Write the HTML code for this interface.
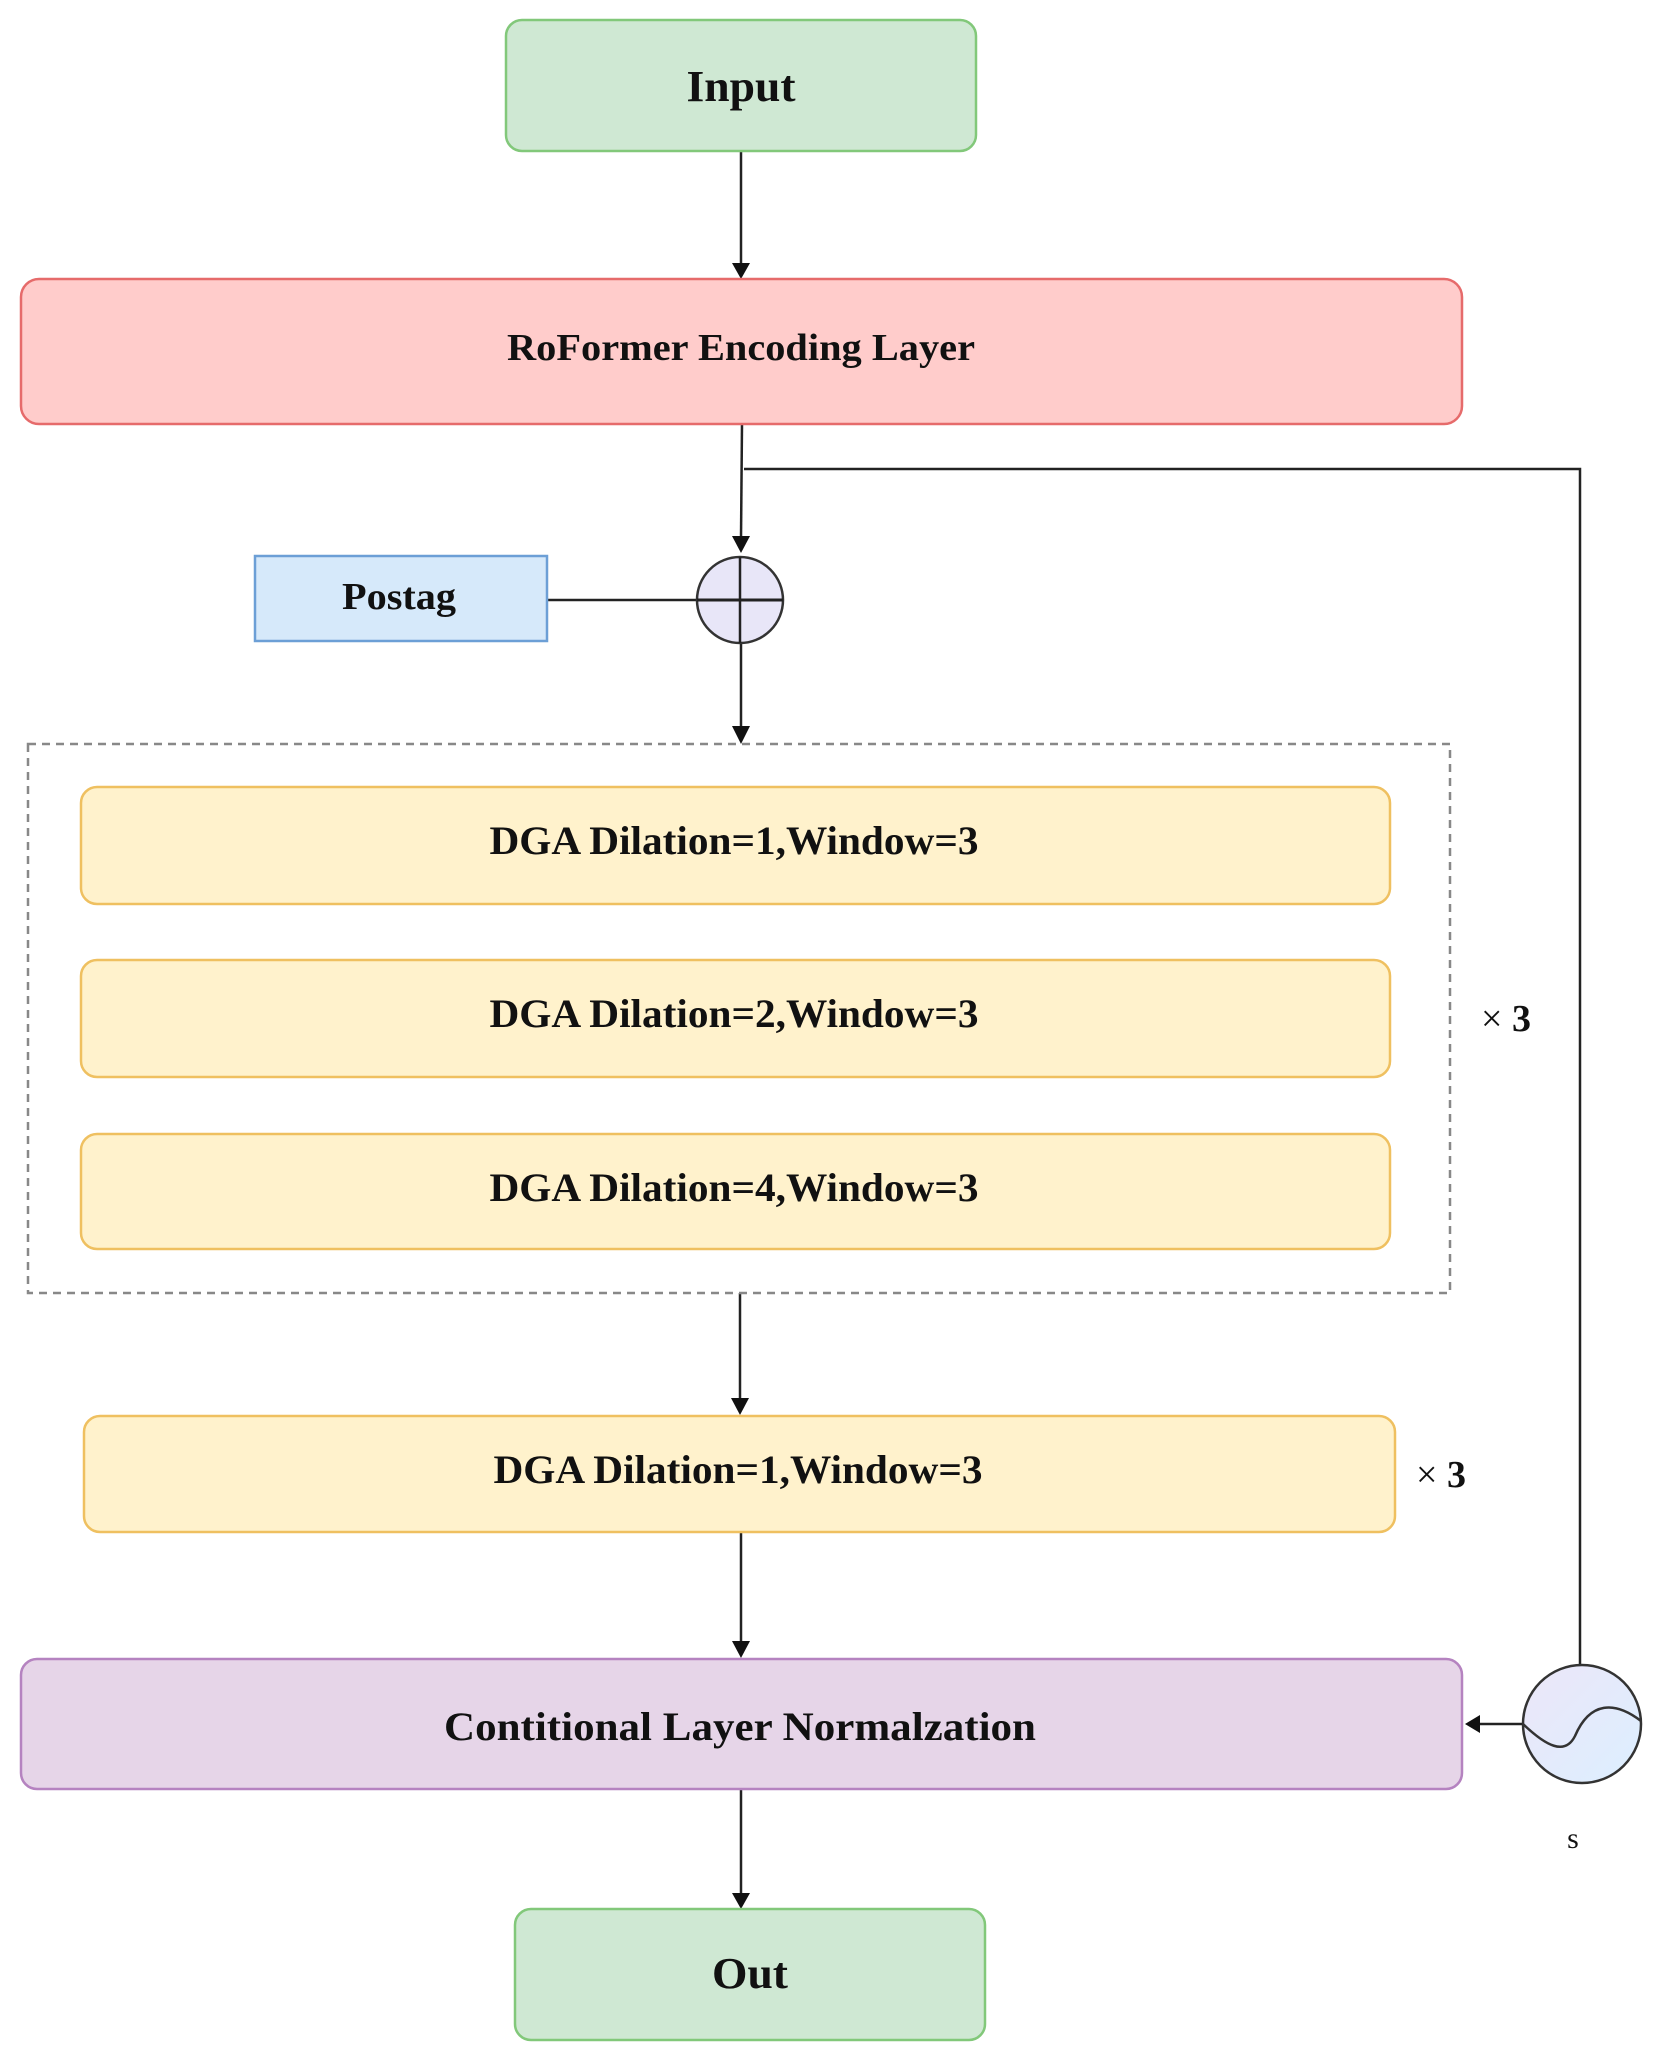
<!DOCTYPE html>
<html><head><meta charset="utf-8"><style>
html,body{margin:0;padding:0;background:#fff;}
svg{display:block;}
text{font-family:"Liberation Serif",serif;font-weight:bold;fill:#111;}
</style></head><body>
<svg width="1658" height="2060" viewBox="0 0 1658 2060" xmlns="http://www.w3.org/2000/svg">
<defs>
<linearGradient id="g" x1="0" y1="0" x2="1" y2="1"><stop offset="0" stop-color="#ece6f8"/><stop offset="1" stop-color="#dcefff"/></linearGradient>
</defs>
<g stroke="#222" stroke-width="2.5" fill="none">
<line x1="741" y1="151" x2="741" y2="265"/>
<line x1="742" y1="424" x2="741" y2="538"/>
<polyline points="744,469 1580,469 1580,1665"/>
<line x1="547" y1="600" x2="700" y2="600"/>
<line x1="741" y1="644" x2="741" y2="728"/>
<line x1="740" y1="1293" x2="740" y2="1400"/>
<line x1="741" y1="1532" x2="741" y2="1643"/>
<line x1="1523" y1="1724" x2="1478" y2="1724"/>
<line x1="741" y1="1789" x2="741" y2="1896"/>
</g>
<g fill="#111">
<polygon points="732,263 750,263 741,279"/>
<polygon points="732,536 750,536 741,553"/>
<polygon points="732,726 750,726 741,744"/>
<polygon points="731,1398 749,1398 740,1415"/>
<polygon points="732,1641 750,1641 741,1658"/>
<polygon points="1480,1715 1480,1733 1465,1724"/>
<polygon points="732,1893 750,1893 741,1909"/>
</g>
<rect x="506" y="20" width="470" height="131" rx="16" fill="#cfe8d3" stroke="#82c87a" stroke-width="2.5"/>
<text x="741" y="101" font-size="44" text-anchor="middle" textLength="109" lengthAdjust="spacingAndGlyphs">Input</text>
<rect x="21" y="279" width="1441" height="145" rx="18" fill="#ffcccb" stroke="#e66b6b" stroke-width="2.5"/>
<text x="741" y="360" font-size="38" text-anchor="middle" textLength="468" lengthAdjust="spacingAndGlyphs">RoFormer Encoding Layer</text>
<rect x="255" y="556" width="292" height="85" fill="#d6e9fa" stroke="#6c9fd6" stroke-width="2.5"/>
<text x="399" y="609" font-size="38" text-anchor="middle" textLength="114" lengthAdjust="spacingAndGlyphs">Postag</text>
<ellipse cx="740" cy="600" rx="43" ry="43" fill="#e8e6f8" stroke="#333" stroke-width="2.5"/>
<line x1="697" y1="600" x2="783" y2="600" stroke="#222" stroke-width="3"/>
<line x1="740" y1="557" x2="740" y2="643" stroke="#222" stroke-width="2.5"/>
<rect x="28" y="744" width="1422" height="549" fill="none" stroke="#888" stroke-width="2.5" stroke-dasharray="8,6"/>
<g fill="#fff2cc" stroke="#efc060" stroke-width="2.5">
<rect x="81" y="787" width="1309" height="117" rx="16"/>
<rect x="81" y="960" width="1309" height="117" rx="16"/>
<rect x="81" y="1134" width="1309" height="115" rx="16"/>
<rect x="84" y="1416" width="1311" height="116" rx="16"/>
</g>
<g font-size="40" text-anchor="middle">
<text x="734" y="854" textLength="489" lengthAdjust="spacingAndGlyphs">DGA  Dilation=1,Window=3</text>
<text x="734" y="1027" textLength="489" lengthAdjust="spacingAndGlyphs">DGA  Dilation=2,Window=3</text>
<text x="734" y="1201" textLength="489" lengthAdjust="spacingAndGlyphs">DGA  Dilation=4,Window=3</text>
<text x="738" y="1483" textLength="489" lengthAdjust="spacingAndGlyphs">DGA  Dilation=1,Window=3</text>
</g>
<text x="1481" y="1031" font-size="38"><tspan font-weight="normal">×</tspan> 3</text>
<text x="1416" y="1487" font-size="38"><tspan font-weight="normal">×</tspan> 3</text>
<rect x="21" y="1659" width="1441" height="130" rx="16" fill="#e6d5e8" stroke="#b583c0" stroke-width="2.5"/>
<text x="740" y="1740" font-size="40" text-anchor="middle" textLength="592" lengthAdjust="spacingAndGlyphs">Contitional Layer Normalzation</text>
<circle cx="1582" cy="1724" r="59" fill="url(#g)" stroke="#333" stroke-width="2.5"/>
<path d="M1523,1724 C1546,1746 1565,1756 1575,1736 C1590,1701 1615,1701 1641,1721" fill="none" stroke="#333" stroke-width="2.5"/>
<text x="1573" y="1848" font-size="30" text-anchor="middle" style="font-weight:normal">s</text>
<rect x="515" y="1909" width="470" height="131" rx="16" fill="#cfe8d3" stroke="#82c87a" stroke-width="2.5"/>
<text x="750" y="1988" font-size="44" text-anchor="middle" textLength="76" lengthAdjust="spacingAndGlyphs">Out</text>
</svg>
</body></html>
